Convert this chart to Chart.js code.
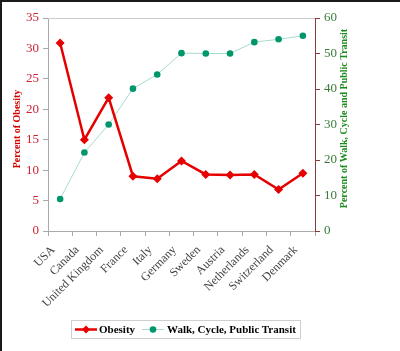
<!DOCTYPE html>
<html>
<head>
<meta charset="utf-8">
<script src="https://cdn.jsdelivr.net/npm/chart.js@4/dist/chart.umd.min.js"></script>
<style>
  html, body { margin: 0; padding: 0; background: #fff; }
  #wrap { position: relative; width: 400px; height: 351px; overflow: hidden; }
  #c { position: absolute; left: 0; top: 0; }
  #frameL { position: absolute; left: 0; top: 0; width: 2px; height: 351px; background: #1a1a1a; }
  #frameT { position: absolute; left: 0; top: 0; width: 400px; height: 2px; background: #1a1a1a; }
  #legend { position: absolute; left: 71px; top: 320px; width: 228px; height: 17px; border: 1px solid #cfcfcf;
            font: bold 11px "Liberation Serif", "Times New Roman", serif; color: #000; }
  #legend .it { position: absolute; top: 0; height: 17px; line-height: 17px; white-space: nowrap; }
  #legend svg { position: absolute; top: 0; }
</style>
</head>
<body>
<div id="wrap">
  <canvas id="c" width="400" height="351"></canvas>
  <div id="frameL"></div>
  <div id="frameT"></div>
  <div id="legend">
    <svg style="left:3px" width="22" height="17"><line x1="0" y1="8.5" x2="22" y2="8.5" stroke="#e60000" stroke-width="2.5"/><polygon points="11,4.5 15,8.5 11,12.5 7,8.5" fill="#e60000"/></svg>
    <span class="it" style="left:27px">Obesity</span>
    <svg style="left:70px" width="22" height="17"><line x1="0" y1="8.5" x2="22" y2="8.5" stroke="#a8dccd" stroke-width="1"/><circle cx="11" cy="8.5" r="3.3" fill="#00966c"/></svg>
    <span class="it" style="left:95px">Walk, Cycle, Public Transit</span>
  </div>
</div>
<script>
const categories = ["USA", "Canada", "United Kingdom", "France", "Italy", "Germany", "Sweden", "Austria", "Netherlands", "Switzerland", "Denmark"];
const obesity = [30.9, 15.0, 21.9, 9.0, 8.6, 11.5, 9.3, 9.2, 9.3, 6.8, 9.5];
const walkCycleTransit = [9.0, 22.1, 30.0, 40.1, 44.1, 50.1, 50.0, 50.0, 53.2, 54.0, 55.0];
const obesityTicks = [0, 35, 5];   // min, max, step
const transitTicks = [0, 60, 10];  // min, max, step
const leftTitle = "Percent of Obesity";
const rightTitle = "Percent of Walk, Cycle and Public Transit";

const serif = '"Liberation Serif", "Times New Roman", serif';

const titlesPlugin = {
  id: 'titles',
  afterDraw(chart) {
    const ctx = chart.ctx;
    const a = chart.chartArea;
    ctx.save();
    ctx.strokeStyle = '#cccccc';
    ctx.lineWidth = 1;
    ctx.beginPath();
    ctx.moveTo(a.left, Math.round(a.top) + 0.5);
    ctx.lineTo(a.right, Math.round(a.top) + 0.5);
    ctx.stroke();
    ctx.font = 'bold 10px ' + serif;
    ctx.textAlign = 'center';
    ctx.textBaseline = 'middle';
    ctx.save();
    ctx.translate(17, 129);
    ctx.rotate(-Math.PI / 2);
    ctx.fillStyle = '#d40000';
    ctx.fillText(leftTitle, 0, 0);
    ctx.restore();
    ctx.save();
    ctx.translate(344, 118.5);
    ctx.rotate(-Math.PI / 2);
    ctx.fillStyle = '#1c8a1c';
    ctx.fillText(rightTitle, 0, 0);
    ctx.restore();
    ctx.restore();
  }
};

new Chart(document.getElementById('c'), {
  type: 'line',
  data: {
    labels: categories,
    datasets: [
      {
        label: 'Walk, Cycle, Public Transit',
        data: walkCycleTransit,
        yAxisID: 'y2',
        borderColor: '#a8dccd',
        borderWidth: 1,
        pointStyle: 'circle',
        pointRadius: 3.3,
        pointBackgroundColor: '#00966c',
        pointBorderColor: '#00966c',
        pointBorderWidth: 0,
        tension: 0,
        order: 2
      },
      {
        label: 'Obesity',
        data: obesity,
        yAxisID: 'y',
        borderColor: '#e60000',
        borderWidth: 2.5,
        pointStyle: 'rectRot',
        pointRadius: 4.5,
        pointBackgroundColor: '#e60000',
        pointBorderColor: '#e60000',
        pointBorderWidth: 0,
        tension: 0,
        order: 1
      }
    ]
  },
  options: {
    responsive: false,
    animation: false,
    devicePixelRatio: 1,
    layout: { padding: { top: 18, left: 0, right: 0, bottom: 0 } },
    plugins: { legend: { display: false }, tooltip: { enabled: false } },
    scales: {
      x: {
        type: 'category',
        offset: true,
        grid: { display: true, offset: true, drawOnChartArea: false, tickLength: 5, color: '#aaaaaa' },
        border: { color: '#aaaaaa' },
        ticks: { maxRotation: 45, minRotation: 45, autoSkip: false, color: '#444444', padding: 7, labelOffset: -7,
                 font: { family: serif, size: 12 } },
        afterFit(s) { s.height = 120; }
      },
      y: {
        position: 'left',
        min: obesityTicks[0], max: obesityTicks[1],
        ticks: { stepSize: obesityTicks[2], color: '#cc2233', padding: 4, font: { family: serif, size: 13 } },
        grid: { drawOnChartArea: false, tickLength: 5, color: '#aaaaaa' },
        border: { color: '#aaaaaa' },
        afterFit(s) { s.width = 48; }
      },
      y2: {
        position: 'right',
        min: transitTicks[0], max: transitTicks[1],
        ticks: { stepSize: transitTicks[2], color: '#3a7a3a', padding: 4, font: { family: serif, size: 13 } },
        grid: { drawOnChartArea: false, tickLength: 5, color: '#8b3a3a' },
        border: { color: '#8b3a3a' },
        afterFit(s) { s.width = 85; }
      }
    }
  },
  plugins: [titlesPlugin]
});
</script>
</body>
</html>
